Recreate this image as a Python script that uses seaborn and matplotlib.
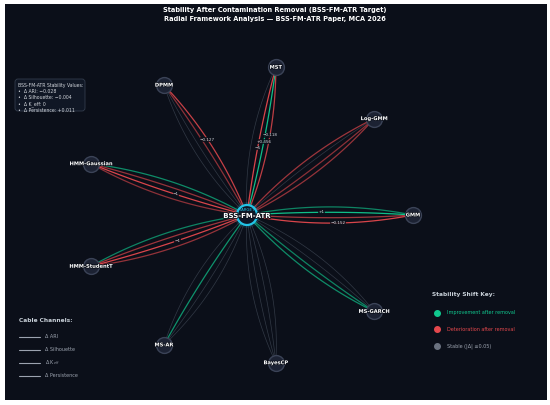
import numpy as np
import pandas as pd
import matplotlib
matplotlib.use("Agg")
import matplotlib.pyplot as plt
import matplotlib.patheffects as pe
from matplotlib.patches import Circle, FancyBboxPatch
import seaborn as sns

# frameworks around the target, counter-clockwise from the right
frameworks = ["GMM", "Log-GMM", "MST", "DPMM", "HMM-Gaussian",
              "HMM-StudentT", "MS-AR", "BayesCP", "MS-GARCH"]
channels = ["ARI", "Silhouette", "K_eff", "Persistence"]

# stability shift after contamination removal (ARI, Sil, K_eff, Persistence)
d_ari = [-0.152, -0.07, -0.118, -0.127, 0.08, 0.07, 0.01, 0.01, 0.08]
d_sil = [-0.08, -0.06, 0.456, -0.06, -0.07, -0.08, 0.09, -0.02, 0.07]
d_keff = [1, 0, -5, 0, -1, -1, 0, 0, 0]
d_pers = [0.07, -0.08, 0.02, -0.03, -0.06, -0.07, 0.02, 0.03, 0.01]

target = "BSS-FM-ATR"
target_vals = ["\u0394 ARI: \u22120.028", "\u0394 Silhouette: \u22120.004",
               "\u0394 K_eff: 0", "\u0394 Persistence: +0.011"]

BG = "#0b0f19"
GREEN = "#10c98f"
RED = "#e5484d"
GRAY = "#4b5563"
CYAN = "#22c3e6"

sns.set_theme(style="dark")
plt.rcParams["font.family"] = ["DejaVu Sans"]

fig = plt.figure(figsize=(5.5, 4.05), dpi=100, facecolor="white")
ax = fig.add_axes([5 / 550, 5 / 405, 542 / 550, 396 / 405])
ax.set_facecolor(BG)
ax.set_xlim(5, 547)
ax.set_ylim(401, 5)
ax.set_xticks([])
ax.set_yticks([])
for s in ax.spines.values():
    s.set_visible(False)

cx, cy = 247, 216
rx, ry = 166, 150
angles = np.deg2rad(np.arange(len(frameworks)) * 40.0)
nx = cx + rx * np.cos(angles)
ny = cy - ry * np.sin(angles)

vals = np.array([d_ari, d_sil, d_keff, d_pers], dtype=float).T
side = [-1.5, -0.5, 0.5, 1.5]
t = np.linspace(0, 1, 61)

for i, fw in enumerate(frameworks):
    dx, dy = nx[i] - cx, ny[i] - cy
    L = np.hypot(dx, dy)
    px, py = dy / L, -dx / L
    for j in range(4):
        v = vals[i, j]
        stable = abs(v) <= 0.05
        off = side[j] * (0.085 if stable else 0.065) * L
        mx, my = cx + dx / 2 + px * off, cy + dy / 2 + py * off
        bx = (1 - t) ** 2 * cx + 2 * (1 - t) * t * mx + t ** 2 * nx[i]
        by = (1 - t) ** 2 * cy + 2 * (1 - t) * t * my + t ** 2 * ny[i]
        if stable:
            col, lw, a = GRAY, 0.5, 0.6
        else:
            col = GREEN if v > 0 else RED
            lw = 0.9
            a = 0.35 + 0.6 * min(abs(v) / 0.15, 1)
        sns.lineplot(x=bx, y=by, sort=False, color=col, lw=lw, alpha=a, ax=ax)
        if abs(v) > 0.1:
            k = int(round((0.55 - 0.05 * j) * 60))
            txt = f"{v:+.0f}" if j == 2 else f"{v:+.3f}"
            txt = txt.replace("-", "\u2212")
            ax.text(bx[k], by[k], txt, fontsize=3, color="#d1d5db",
                    ha="center", va="center", zorder=6,
                    bbox=dict(boxstyle="square,pad=0.1", fc=BG, ec="none", alpha=0.8))

# framework nodes
nodes = pd.DataFrame({"x": nx, "y": ny, "name": frameworks})
sns.scatterplot(data=nodes, x="x", y="y", s=130, color="#1c2233",
                edgecolor="#3b4357", linewidth=1.0, zorder=7, ax=ax, legend=False)
for i, fw in enumerate(frameworks):
    ax.text(nx[i], ny[i], fw, fontsize=3.7, color="white", weight="bold",
            ha="center", va="center", zorder=8,
            path_effects=[pe.withStroke(linewidth=1, foreground=BG)])

# target node
ax.add_patch(Circle((cx, cy), 13, fc=CYAN, ec="none", alpha=0.12, zorder=8))
ax.add_patch(Circle((cx, cy), 10, fc="#0d1626", ec=CYAN, lw=1.6, zorder=9))
ax.text(cx, cy - 5, "TARGET", fontsize=2.8, color=CYAN, ha="center", va="center", zorder=10)
ax.text(cx, cy + 1, target, fontsize=5, color="white", weight="bold", ha="center",
        va="center", zorder=10, path_effects=[pe.withStroke(linewidth=1.2, foreground=BG)])

# title
fig.text(0.5, 1 - 10 / 405, "Stability After Contamination Removal (BSS-FM-ATR Target)",
         ha="center", va="center", color="white", weight="bold", fontsize=4.8)
fig.text(0.5, 1 - 19 / 405, "Radial Framework Analysis \u2014 BSS-FM-ATR Paper, MCA 2026",
         ha="center", va="center", color="white", weight="bold", fontsize=4.8)

# info box
ax.add_patch(FancyBboxPatch((15, 80), 70, 32, boxstyle="round,pad=0,rounding_size=3",
                            fc="#111827", ec="#374151", lw=0.6, alpha=0.9, zorder=5))
info = "BSS-FM-ATR Stability Values:\n" + "\n".join("\u2022  " + s for s in target_vals)
ax.text(18, 83.5, info, fontsize=3.3, color="#d1d5db", ha="left", va="top",
        linespacing=1.3, zorder=6)

# cable channel legend
ax.text(19, 322, "Cable Channels:", fontsize=4.2, color="#c9d1d9", weight="bold",
        ha="left", va="center")
ch_labels = ["\u0394 ARI", "\u0394 Silhouette", "\u0394 K$_{eff}$", "\u0394 Persistence"]
for k, lab in enumerate(ch_labels):
    yy = 338 + 13 * k
    ax.plot([19, 40], [yy, yy], color="#9ca3af", lw=0.8)
    ax.text(45, yy, lab, fontsize=3.5, color="#9ca3af", ha="left", va="center")

# shift key legend
ax.text(432, 296, "Stability Shift Key:", fontsize=4.2, color="#c9d1d9", weight="bold",
        ha="left", va="center")
key = [("Improvement after removal", GREEN), ("Deterioration after removal", RED),
       ("Stable (|\u0394| \u22640.05)", "#6b7280")]
for k, (lab, col) in enumerate(key):
    yy = 314 + 16.5 * k
    ax.scatter([437], [yy], s=16, color=col, zorder=6)
    ax.text(447, yy, lab, fontsize=3.5, color=col if k < 2 else "#9ca3af",
            ha="left", va="center")

fig.savefig("out.png", dpi=100, facecolor="white")
